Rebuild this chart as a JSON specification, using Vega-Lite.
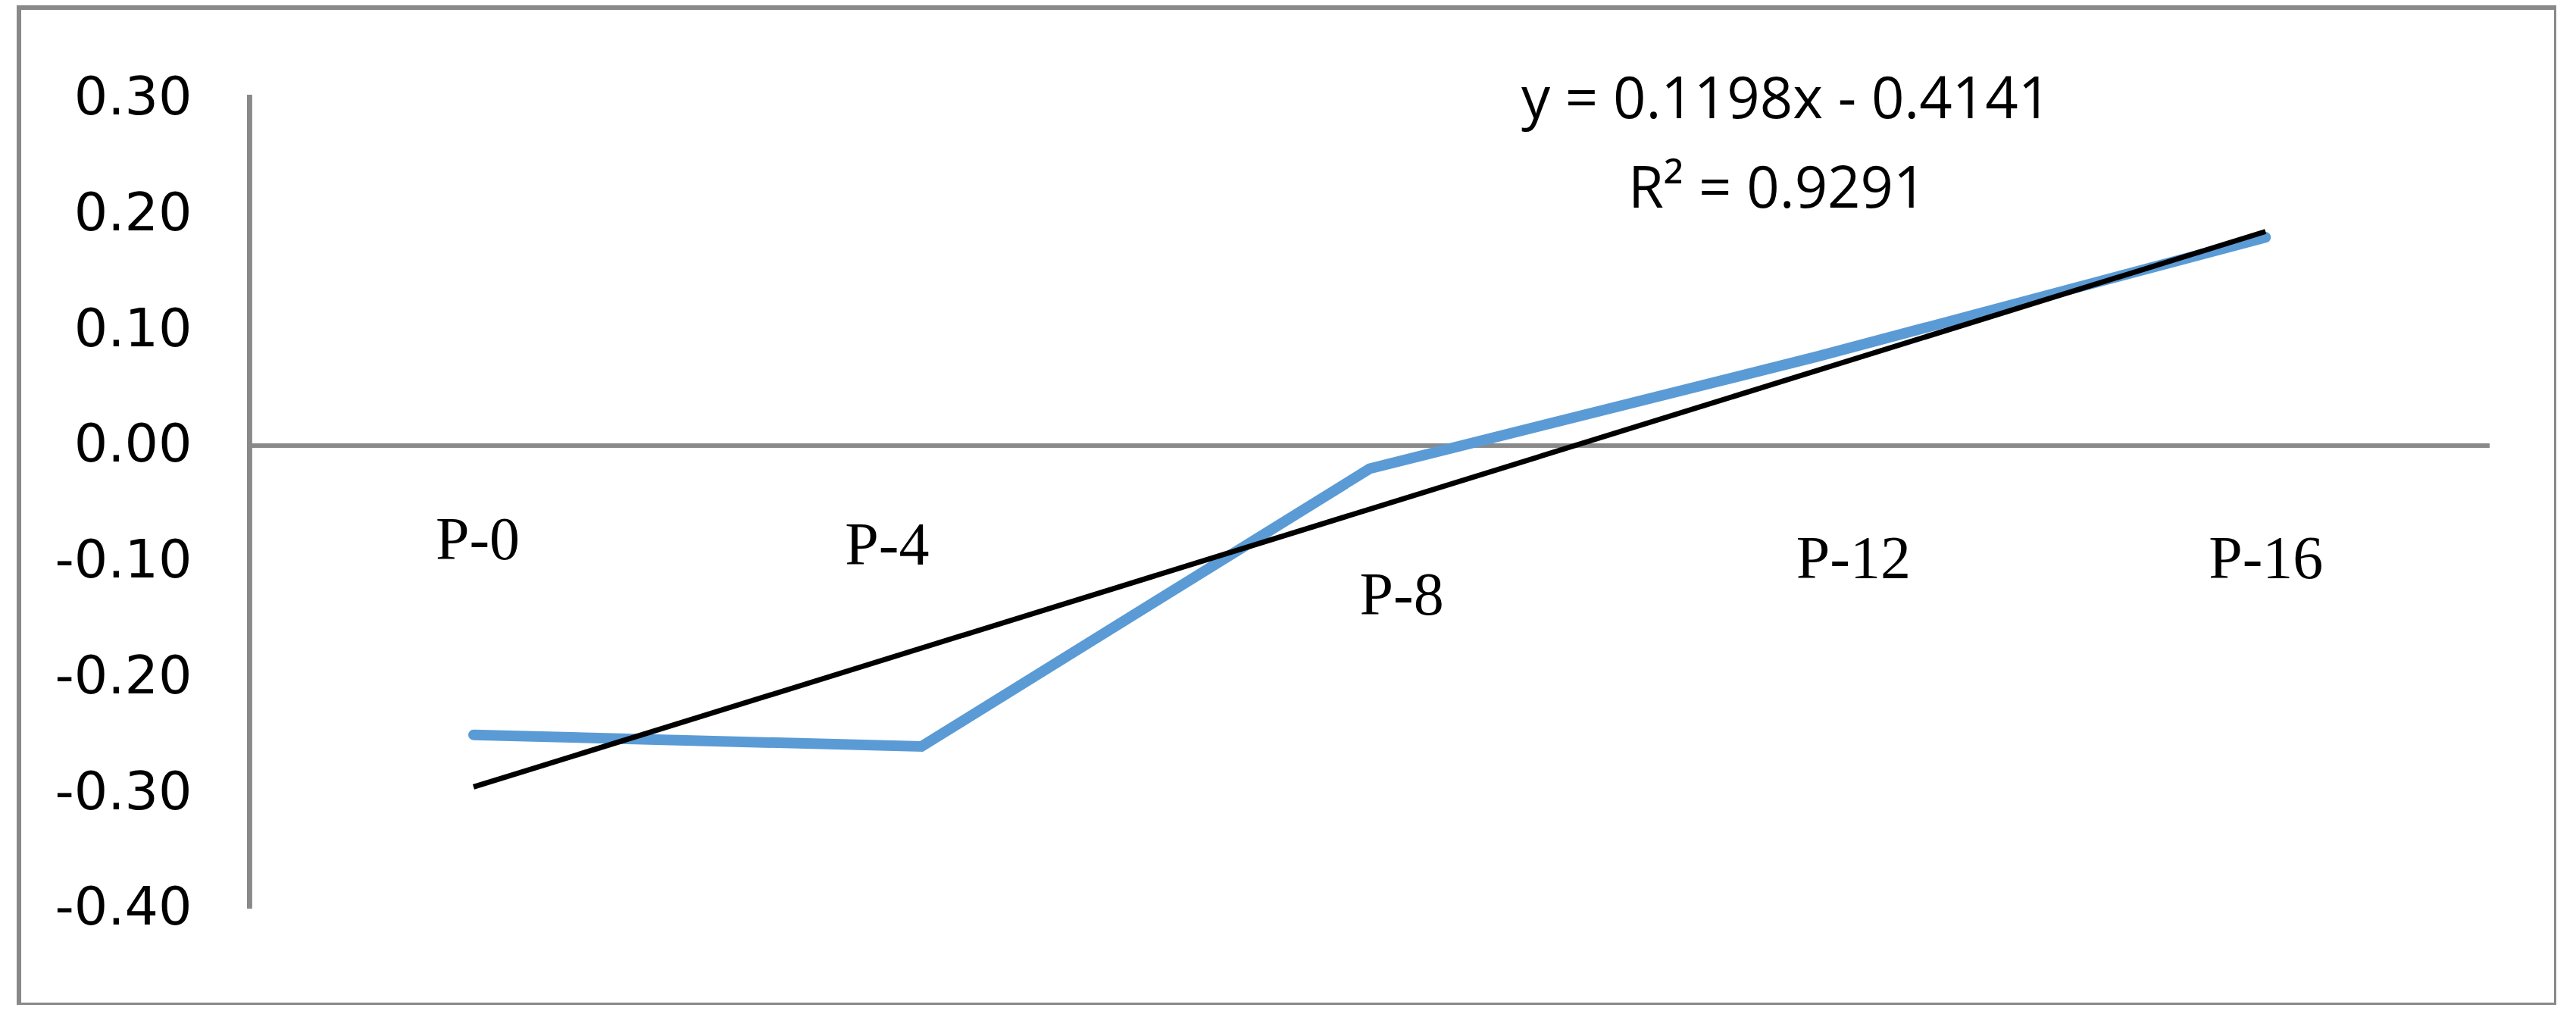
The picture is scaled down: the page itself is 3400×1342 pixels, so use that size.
{
  "$schema": "https://vega.github.io/schema/vega-lite/v6.json",
  "autosize": "none",
  "padding": {"left": 25, "top": 10, "right": 0, "bottom": 0},
  "width": 3349,
  "height": 1316,
  "background": "white",
  "config": {"view": {"stroke": "#898989", "strokeWidth": 6}},
  "datasets": {
    "series": [
      {"period": "P-0", "i": 0, "value": -0.25},
      {"period": "P-4", "i": 1, "value": -0.26},
      {"period": "P-8", "i": 2, "value": -0.02},
      {"period": "P-12", "i": 3, "value": 0.077},
      {"period": "P-16", "i": 4, "value": 0.18}
    ],
    "trend": [
      {"i": 0, "value": -0.295},
      {"i": 4, "value": 0.185}
    ],
    "equation": [
      {"line1": "y = 0.1198x - 0.4141", "line2": "R² = 0.9291"}
    ]
  },
  "layer": [
    {
      "data": {"name": "series"},
      "mark": {"type": "rule", "color": "#898989", "strokeWidth": 5},
      "encoding": {
        "x": {
          "datum": -0.5,
          "type": "quantitative",
          "scale": {"domain": [-1.0147, 4.649], "nice": false, "zero": false},
          "axis": {
            "values": [0, 1, 2, 3, 4],
            "labelExpr": "['P-0','P-4','P-8','P-12','P-16'][datum.value]",
            "domain": false,
            "ticks": false,
            "tickSize": 0,
            "grid": false,
            "title": null,
            "offset": -738,
            "labelFont": "Liberation Serif",
            "labelFontSize": 80,
            "labelColor": "#000000",
            "labelBaseline": "middle",
            "labelAlign": "center",
            "labelLimit": 500,
            "labelPadding": {
              "condition": [
                {"test": "datum.value == 1", "value": 132},
                {"test": "datum.value == 2", "value": 198},
                {"test": "datum.value >= 3", "value": 150}
              ],
              "value": 125
            },
            "labelOffset": {
              "condition": [
                {"test": "datum.value == 0", "value": 5},
                {"test": "datum.value == 1", "value": -46},
                {"test": "datum.value == 2", "value": 42},
                {"test": "datum.value == 3", "value": 47}
              ],
              "value": 0
            },
            "labelOverlap": false,
            "labelFlush": false
          }
        },
        "x2": {"datum": 4.5},
        "y": {
          "datum": 0,
          "type": "quantitative",
          "scale": {"domain": [-0.4833, 0.3785], "nice": false, "zero": false},
          "axis": {
            "values": [-0.4, -0.3, -0.2, -0.1, 0, 0.1, 0.2, 0.3],
            "labelExpr": "replace(format(datum.value, '.2f'), '\u2212', '-')",
            "domain": false,
            "ticks": false,
            "tickSize": 0,
            "grid": false,
            "title": null,
            "offset": -305,
            "labelFont": "DejaVu Sans",
            "labelFontSize": 70,
            "labelColor": "#000000",
            "labelPadding": 77,
            "labelLimit": 500,
            "labelOverlap": false,
            "labelFlush": false
          }
        }
      }
    },
    {
      "data": {"name": "series"},
      "mark": {"type": "rule", "color": "#898989", "strokeWidth": 6},
      "encoding": {
        "x": {"datum": -0.5, "type": "quantitative"},
        "y": {"datum": -0.4, "type": "quantitative"},
        "y2": {"datum": 0.303}
      }
    },
    {
      "data": {"name": "series"},
      "mark": {"type": "line", "color": "#5B9BD5", "strokeWidth": 14, "strokeCap": "round", "strokeJoin": "miter"},
      "encoding": {
        "x": {"field": "i", "type": "quantitative", "title": null},
        "y": {"field": "value", "type": "quantitative", "title": null}
      }
    },
    {
      "data": {"name": "trend"},
      "mark": {"type": "line", "color": "#000000", "strokeWidth": 7},
      "encoding": {
        "x": {"field": "i", "type": "quantitative", "title": null},
        "y": {"field": "value", "type": "quantitative", "title": null}
      }
    },
    {
      "data": {"name": "equation"},
      "mark": {"type": "text", "font": "Open Sans", "fontSize": 76, "color": "#000000", "align": "center", "baseline": "middle"},
      "encoding": {
        "x": {"datum": 2.93, "type": "quantitative"},
        "y": {"datum": 0.298, "type": "quantitative"},
        "text": {"field": "line1"}
      }
    },
    {
      "data": {"name": "equation"},
      "mark": {"type": "text", "font": "Open Sans", "fontSize": 76, "color": "#000000", "align": "center", "baseline": "middle"},
      "encoding": {
        "x": {"datum": 2.91, "type": "quantitative"},
        "y": {"datum": 0.221, "type": "quantitative"},
        "text": {"field": "line2"}
      }
    }
  ]
}
